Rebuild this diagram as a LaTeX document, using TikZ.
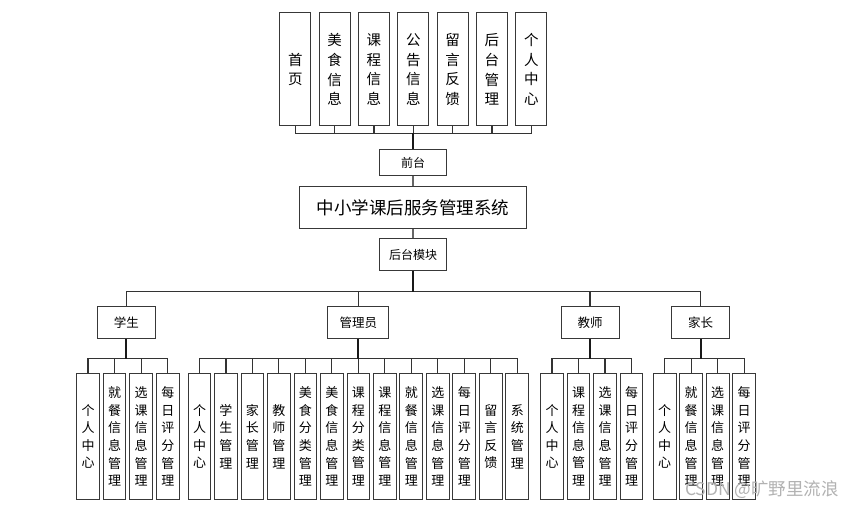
\documentclass[tikz,border=0pt]{standalone}
\usepackage{fontspec}
\setmainfont{Noto Sans CJK SC}
\newfontfamily\cjk{Noto Sans CJK SC}
\begin{document}
\begin{tikzpicture}[x=1pt,y=-1pt,
  box/.style={draw=black!78,line width=1pt,fill=white,inner sep=0pt,align=center},
  topbox/.style={box,minimum width=31pt,minimum height=113pt,font=\cjk\fontsize{14.5}{19.7}\selectfont},
  leaf/.style={box,minimum width=22.7pt,minimum height=126pt,font=\cjk\fontsize{13}{17.6}\selectfont},
  role/.style={box,minimum width=58pt,minimum height=32pt,font=\cjk\fontsize{12.5}{15}\selectfont},
  link/.style={draw=black!80,line width=1.1pt},
  trunk/.style={draw=black!90,line width=1.8pt}]
\useasboundingbox (0,0) rectangle (863,508);
\fill[white] (0,0) rectangle (863,508);
% bus levels
\coordinate (tbus) at (0,133.3);
\coordinate (rbus) at (0,291.5);
\coordinate (lbus) at (0,358.5);
% top boxes
\foreach \t [count=\i] in {{首\\页},{美\\食\\信\\息},{课\\程\\信\\息},{公\\告\\信\\息},{留\\言\\反\\馈},{后\\台\\管\\理},{个\\人\\中\\心}}
  \node[topbox] (top\i) at ({295.3+39.33*(\i-1)},69.5) {\t};
\node[box,minimum width=67.4pt,minimum height=26pt,font=\cjk\fontsize{12}{14}\selectfont] (qt) at (413,163) {前台};
\node[box,minimum width=227.4pt,minimum height=41.6pt,font=\cjk\fontsize{17.5}{20}\selectfont] (sys) at (413,207.5) {中小学课后服务管理系统};
\node[box,minimum width=67.4pt,minimum height=32pt,font=\cjk\fontsize{12}{14}\selectfont] (ht) at (413,254.7) {后台模块};
% roles
\node[role] (stu) at (126.3,322.7) {学生};
\node[role,minimum width=60.7pt] (adm) at (358.3,322.7) {管理员};
\node[role] (tea) at (590,322.7) {教师};
\node[role] (par) at (700.7,322.7) {家长};
% leaves
\foreach \t [count=\i] in {{个\\人\\中\\心},{就\\餐\\信\\息\\管\\理},{选\\课\\信\\息\\管\\理},{每\\日\\评\\分\\管\\理}}
  \node[leaf] (s\i) at ({88+26.6*(\i-1)},436.5) {\t};
\foreach \t [count=\i] in {{个\\人\\中\\心},{学\\生\\管\\理},{家\\长\\管\\理},{教\\师\\管\\理},{美\\食\\分\\类\\管\\理},{美\\食\\信\\息\\管\\理},{课\\程\\分\\类\\管\\理},{课\\程\\信\\息\\管\\理},{就\\餐\\信\\息\\管\\理},{选\\课\\信\\息\\管\\理},{每\\日\\评\\分\\管\\理},{留\\言\\反\\馈},{系\\统\\管\\理}}
  \node[leaf] (a\i) at ({199.5+26.48*(\i-1)},436.5) {\t};
\foreach \t [count=\i] in {{个\\人\\中\\心},{课\\程\\信\\息\\管\\理},{选\\课\\信\\息\\管\\理},{每\\日\\评\\分\\管\\理}}
  \node[leaf] (t\i) at ({552+26.5*(\i-1)},436.5) {\t};
\foreach \t [count=\i] in {{个\\人\\中\\心},{就\\餐\\信\\息\\管\\理},{选\\课\\信\\息\\管\\理},{每\\日\\评\\分\\管\\理}}
  \node[leaf] (p\i) at ({664.7+26.5*(\i-1)},436.5) {\t};
% connectors: top
\foreach \i in {1,...,7}
  \draw[link] (qt.north |- tbus) -| (top\i.south);
\draw[trunk] (qt.north) -- (qt.north |- tbus);
\draw[link,draw=black!60,line width=1.6pt] (qt.south) -- (sys.north);
\draw[link,draw=black!60,line width=1.6pt] (sys.south) -- (ht.north);
% roles
\foreach \r in {stu,adm,tea,par}
  \draw[link] (ht.south |- rbus) -| (\r.north);
\draw[trunk] (ht.south) -- (ht.south |- rbus);
% leaves
\foreach \i in {1,...,4}
  \draw[link] (stu.south |- lbus) -| (s\i.north);
\foreach \i in {1,...,13}
  \draw[link] (adm.south |- lbus) -| (a\i.north);
\foreach \i in {1,...,4}
  \draw[link] (tea.south |- lbus) -| (t\i.north);
\foreach \i in {1,...,4}
  \draw[link] (par.south |- lbus) -| (p\i.north);
\foreach \r in {stu,adm,tea,par}
  \draw[trunk] (\r.south) -- (\r.south |- lbus);
% watermark
\node[text=black!30,font=\cjk\fontsize{17.5}{20}\selectfont,inner sep=0pt] (wm) at (762,490) {CSDN @旷野里流浪};
\end{tikzpicture}
\end{document}
